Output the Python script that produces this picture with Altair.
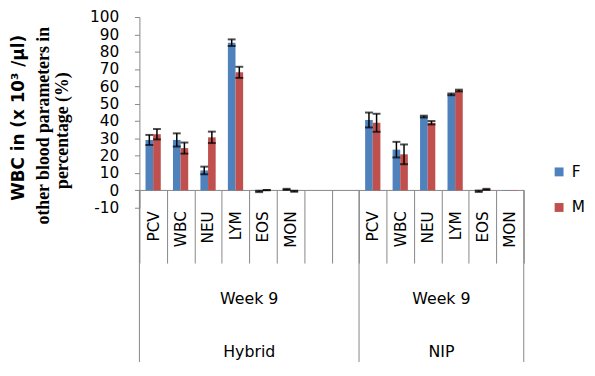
import altair as alt
import pandas as pd

params = ["PCV", "WBC", "NEU", "LYM", "EOS", "MON"]
groups = ["Hybrid", "NIP"]
week_label = "Week 9"
series = ["F", "M"]
colors = ["#4F81BD", "#C0504D"]

hybrid_F = [29.1, 29.1, 11.5, 85.2, -0.6, 0.6]
hybrid_M = [32.4, 24.4, 30.6, 68.1, 0.2, -0.5]
hybrid_F_err = [2.9, 3.8, 2.2, 1.9, 0.4, 0.3]
hybrid_M_err = [3.0, 3.2, 3.3, 3.2, 0.1, 0.3]
nip_F = [40.6, 23.5, 42.6, 55.4, -0.5, 0.2]
nip_M = [39.0, 20.8, 39.0, 57.6, 0.6, 0.2]
nip_F_err = [4.3, 4.5, 0.5, 0.5, 0.4, 0.0]
nip_M_err = [5.2, 5.7, 1.0, 0.5, 0.3, 0.0]

title_lines = ["WBC in (x 10\u00b3 /\u00b5l)", "other blood parameters in", "percentage (%)"]

# slots of the category axis (two empty slots after the Hybrid group)
slots = ["Hybrid|" + p for p in params] + ["Hybrid| ", "Hybrid|  "] + ["NIP|" + p for p in params]

values = {
    ("Hybrid", "F"): (hybrid_F, hybrid_F_err),
    ("Hybrid", "M"): (hybrid_M, hybrid_M_err),
    ("NIP", "F"): (nip_F, nip_F_err),
    ("NIP", "M"): (nip_M, nip_M_err),
}
rows = []
for g in groups:
    for s in series:
        vals, errs = values[(g, s)]
        for p, v, e in zip(params, vals, errs):
            rows.append({"slot": g + "|" + p, "series": s, "value": v, "err": e,
                         "lo": v - e, "hi": v + e})
df = pd.DataFrame(rows)
df_err = df[df["err"] > 0]

FONT = "DejaVu Sans"
GRAY = "#868686"

xscale = alt.Scale(domain=slots, paddingInner=0, paddingOuter=0)
xoff = alt.XOffset("series:N", scale=alt.Scale(domain=series, paddingInner=0, paddingOuter=0.8))
yscale = alt.Scale(domain=[-10, 100], nice=False)

xaxis = alt.Axis(
    title=None, offset=-18, tickBand="extent", tickSize=74, tickColor=GRAY, tickWidth=1,
    domainColor=GRAY, domainWidth=1, labelAngle=270, labelAlign="right", labelBaseline="middle",
    labelPadding=-53, labelFont=FONT, labelFontSize=15.5, labelColor="black",
    labelExpr="split(datum.label, '|')[1]", labelOverlap=False, grid=False,
)
yaxis = alt.Axis(
    title=None, values=list(range(-10, 101, 10)), grid=False, tickSize=5, tickColor=GRAY,
    domainColor=GRAY, labelFont=FONT, labelFontSize=15.5, labelColor="black", labelPadding=16,
    labelExpr="'' + datum.value",
)

def X(band=None):
    if band is None:
        return alt.X("slot:N", scale=xscale, axis=xaxis)
    return alt.X("slot:N", scale=xscale, axis=xaxis, bandPosition=band)

def Y(field):
    return alt.Y(field, scale=yscale, axis=yaxis)

bars = alt.Chart(df).mark_bar().encode(
    x=X(),
    xOffset=xoff,
    y=Y("value:Q"),
    color=alt.Color("series:N", scale=alt.Scale(domain=series, range=colors),
                    legend=alt.Legend(orient="none", legendX=417, legendY=149, title=None,
                                      symbolType="square", symbolSize=81, symbolStrokeWidth=0,
                                      labelFont=FONT, labelFontSize=15.5, labelColor="black",
                                      rowPadding=19, labelOffset=5, padding=0)),
)

err_base = alt.Chart(df_err)
err_rule = err_base.mark_rule(color="black", strokeWidth=1.5).encode(
    x=X(), xOffset=xoff, y=Y("lo:Q"), y2="hi:Q",
)
cap_lo = err_base.mark_tick(color="black", thickness=2, size=8).encode(
    x=X(), xOffset=xoff, y=Y("lo:Q"),
)
cap_hi = err_base.mark_tick(color="black", thickness=2, size=8).encode(
    x=X(), xOffset=xoff, y=Y("hi:Q"),
)

# long dividers of the grouped category axis
div_start = alt.Chart(pd.DataFrame({"slot": [slots[0], "NIP|" + params[0]]})).mark_rule(
    color=GRAY, strokeWidth=1).encode(
    x=X(0), y=alt.value(175), y2=alt.value(400),
)
div_end = alt.Chart(pd.DataFrame({"slot": [slots[-1]]})).mark_rule(
    color=GRAY, strokeWidth=1).encode(
    x=X(1), y=alt.value(175), y2=alt.value(400),
)

group_df = pd.DataFrame({"slot": ["Hybrid|EOS", "NIP|LYM"], "group": groups,
                         "week": [week_label, week_label]})
week_text = alt.Chart(group_df).mark_text(font=FONT, fontSize=16, color="black", baseline="middle").encode(
    x=X(0), y=alt.value(285), text="week:N",
)
group_text = alt.Chart(group_df).mark_text(font=FONT, fontSize=16, color="black", baseline="middle").encode(
    x=X(0), y=alt.value(339), text="group:N",
)

def title_line(txt, x, y, font, size):
    return alt.Chart(pd.DataFrame({"t": [txt]})).mark_text(
        angle=270, font=font, fontSize=size, fontWeight="bold", color="black",
        align="center", baseline="middle").encode(
        text="t:N", x=alt.value(x), y=alt.value(y))

t1 = title_line(title_lines[0], -122, 102, "DejaVu Sans", 17)
t2 = title_line(title_lines[1], -97, 110, "Liberation Serif", 18)
t3 = title_line(title_lines[2], -77, 115, "Liberation Serif", 18)

chart = alt.layer(
    bars, err_rule, cap_lo, cap_hi, div_start, div_end, week_text, group_text, t1, t2, t3
).properties(
    width=389, height=193,
    autosize=alt.AutoSizeParams(type="none"),
    padding={"left": 133, "top": 7, "right": 64, "bottom": 154},
).configure_view(stroke=None)

chart.save("out.html", embed_options={"renderer": "svg", "actions": False})
